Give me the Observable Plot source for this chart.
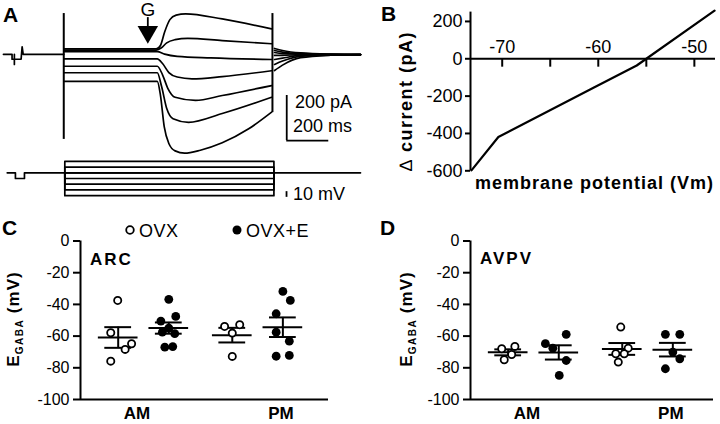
<!DOCTYPE html>
<html><head><meta charset="utf-8">
<script src="https://cdn.jsdelivr.net/npm/d3@7"></script>
<script src="https://cdn.jsdelivr.net/npm/@observablehq/plot@0.6"></script>
<style>
html,body{margin:0;padding:0;background:#fff;}
#fig{position:relative;width:720px;height:424px;overflow:hidden;background:#fff;}
</style></head><body><div id="fig"></div>
<script>
// ---------------- Panel A: current traces (time ms, current pA) ----------------
const stepLevels = [-40, -50, -60, -70, -80, -90, -100]; // mV
const trace1 = [[3,25],[440,25],[460,40],[480,100],[505,155],[535,175],[580,181],[754,158],[989,114]];
const trace2 = [[3,20],[440,20],[465,30],[490,52],[530,66],[590,72],[754,62],[989,48]];
const trace3 = [[3,13],[445,13],[480,2],[540,-8],[700,-15],[989,-22]];
const trace4 = [[3,-19],[445,-19],[470,-40],[500,-80],[540,-100],[610,-108],[754,-98],[989,-72]];
const trace5 = [[3,-52],[445,-52],[470,-90],[495,-150],[530,-190],[627,-204],[754,-182],[989,-138]];
const trace6 = [[3,-81],[445,-81],[465,-140],[490,-240],[520,-285],[594,-301],[754,-262],[989,-190]];
const trace7 = [[3,-119],[445,-119],[460,-180],[478,-320],[500,-395],[530,-428],[575,-438],[650,-425],[754,-392],[880,-330],[989,-256]];
const tail1 = [[1003,27],[1041,18],[1127,7],[1270,1.5],[1412,0]];
const tail2 = [[1003,18],[1041,11],[1127,4],[1270,1],[1412,0]];
const tail3 = [[1003,9],[1041,4],[1127,2],[1270,0.5],[1412,0]];
const tail4 = [[1003,-4],[1041,-4],[1127,0],[1270,0],[1412,0]];
const tail5 = [[1003,-22],[1041,-16],[1127,-4],[1270,-1],[1412,0]];
const tail6 = [[1003,-44],[1041,-29],[1127,-8],[1270,-2],[1412,0]];
const tail7 = [[1003,-71],[1041,-47],[1127,-14],[1270,-3],[1412,0]];
const preStep = [[-287,1],[-246,1],[-246,-21],[-235,-21],[-235,1],[-235,-44],[-235,-21],[-203,-21],[-198,34],[-193,1],[0,1]];
const capSpikeTime = [0, 993];
const capSpikeTop = [182, 182];
const capSpikeBottom = [-377, -258];
const gabaPuff = 400; // ms
const holdingV = [[-269,-60],[-230,-60],[-230,-70],[-187,-70],[-187,-60],[1412,-60]];
const stepOn = 5, stepOff = 1000;
const barI = 200, barT = 200, barV = 10;

// ---------------- Panel B: I-V relation ----------------
const ivVm = [-73.2, -70.4, -60.5, -56, -47.9];
const ivCurrent = [-598, -419, -155, -36, 258];
const ivYTicks = [200, 0, -200, -400, -600];
const ivXTicks = [-70, -65, -60, -55, -50];
const ivXLabels = [-70, -60, -50];

// ---------------- Panels C, D: EGABA ----------------
const groups = ["OVX AM", "OVX+E AM", "OVX PM", "OVX+E PM"];
const groupTreat = ["OVX", "OVX+E", "OVX", "OVX+E"];
const groupPos = [0.76, 1.78, 3.06, 4.08];
const sessions = ["AM", "PM"];
const sessionPos = [1.14, 4.04];
const egabaTicks = [0, -20, -40, -60, -80, -100];
const arcValues = [
  [-37.5, -57.9, -64.8, -68.4, -75.8],
  [-36.8, -47.6, -50.5, -55, -57.5, -58.5, -67, -66.6],
  [-53.9, -52.8, -58.1, -72.8],
  [-31.8, -37.5, -45.9, -57.5, -63.2, -72.7, -72.2]
];
const arcJitter = [
  [-0.01, -0.15, 0.27, 0.14, -0.15],
  [0, 0.14, -0.16, 0, -0.13, 0.12, -0.08, 0.08],
  [-0.155, 0.15, 0, 0],
  [0, 0.15, -0.135, -0.135, 0.13, -0.135, 0.13]
];
const avpvValues = [
  [-68, -66.5, -71.6, -74.9],
  [-58.9, -64.8, -67.6, -75.4, -84.8],
  [-54.3, -67.6, -71.1, -71.1, -76.4],
  [-58.9, -58.9, -70.1, -74.3, -80.6]
];
const avpvJitter = [
  [-0.13, 0.135, 0.07, -0.08],
  [0.15, -0.27, -0.12, 0.15, 0.01],
  [-0.03, 0.12, -0.13, 0.04, -0.08],
  [-0.15, 0.14, 0, 0.14, -0.15]
];

const FONT = '"Liberation Sans", Arial, Helvetica, sans-serif';
const fig = document.getElementById("fig");
function place(svg, left, top) {
  svg.style.position = "absolute";
  svg.style.left = left + "px";
  svg.style.top = top + "px";
  fig.appendChild(svg);
}
const baseStyle = {fontFamily: FONT, background: "none", overflow: "visible"};

// ----- Panel A traces -----
const traces = [trace1, trace2, trace3, trace4, trace5, trace6, trace7];
const tails = [tail1, tail2, tail3, tail4, tail5, tail6, tail7];
const traceRows = traces.flatMap((tr, k) => tr.map(([t, i]) => ({t, i, key: "s" + k})))
  .concat(tails.flatMap((tr, k) => tr.map(([t, i]) => ({t, i, key: "t" + k}))));
const spikes = capSpikeTime.map((t, k) => ({t, top: capSpikeTop[k], bot: capSpikeBottom[k]}));
const barX = 1061, barY = -382;
const plotA = Plot.plot({
  width: 360, height: 215, margin: 0,
  style: baseStyle,
  x: {domain: [-301, 1412], axis: null},
  y: {domain: [-715, 240], axis: null},
  marks: [
    Plot.line(preStep, {x: d => d[0], y: d => d[1], stroke: "black", strokeWidth: 1.7}),
    Plot.line(traceRows, {x: "t", y: "i", z: "key", curve: "monotone-x", stroke: "black", strokeWidth: 1.7}),
    Plot.ruleX(spikes, {x: "t", y1: "bot", y2: "top", stroke: "black", strokeWidth: 2}),
    // GABA puff arrow
    Plot.ruleX([gabaPuff], {x: d => d, y1: 164, y2: 120, stroke: "black", strokeWidth: 1.8}),
    Plot.dot([gabaPuff], {x: d => d, y: 100, symbol: "triangle", rotate: 180, r: 7.6, fill: "black"}),
    Plot.text(["G"], {x: gabaPuff, y: 172, text: d => d, lineAnchor: "bottom", fontSize: 19}),
    // scale bars
    Plot.ruleX([barX], {x: d => d, y1: barY, y2: barY + barI, stroke: "black", strokeWidth: 1.8}),
    Plot.ruleY([barY], {y: d => d, x1: barX, x2: barX + barT, stroke: "black", strokeWidth: 1.8})
  ]
});
place(plotA, 0, 0);

// ----- Panel A voltage protocol -----
const stepRows = stepLevels.flatMap((L, k) => [
  {t: stepOn, v: -60, k}, {t: stepOn, v: L, k}, {t: stepOff, v: L, k}, {t: stepOff, v: -60, k}
]);
const plotV = Plot.plot({
  width: 360, height: 60, margin: 0,
  style: baseStyle,
  x: {domain: [-301, 1412], axis: null},
  y: {domain: [-126, -21], axis: null},
  marks: [
    Plot.line(holdingV, {x: d => d[0], y: d => d[1], stroke: "black", strokeWidth: 1.7}),
    Plot.line(stepRows, {x: "t", y: "v", z: "k", stroke: "black", strokeWidth: 1.7}),
    Plot.ruleX([1060], {x: d => d, y1: -103, y2: -103 + barV, stroke: "black", strokeWidth: 1.8})
  ]
});
place(plotV, 0, 150);

// ----- Panel B -----
const ivRows = ivVm.map((v, k) => ({v, i: ivCurrent[k]}));
const xMin = -73.3;
const plotB = Plot.plot({
  width: 360, height: 215, marginLeft: 110, marginRight: 5, marginTop: 11.6, marginBottom: 44.7,
  style: baseStyle,
  x: {domain: [xMin, -47.8], axis: null},
  y: {domain: [-600, 250], axis: null},
  marks: [
    Plot.ruleX([xMin], {x: d => d, y1: -600, y2: 250, stroke: "black", strokeWidth: 2}),
    Plot.ruleY([0], {y: d => d, stroke: "black", strokeWidth: 2}),
    Plot.axisY({ticks: ivYTicks, tickSize: 5, tickPadding: 3, fontSize: 18, tickFormat: d => String(d), label: null, strokeWidth: 2}),
    Plot.ruleX(ivXTicks, {x: d => d, y1: 0, y2: -45, stroke: "black", strokeWidth: 2}),
    Plot.text(ivXLabels, {x: d => d, y: 0, dy: -6, text: d => String(d), lineAnchor: "bottom", fontSize: 18}),
    Plot.line(ivRows, {x: "v", y: "i", stroke: "black", strokeWidth: 2.2})
  ]
});
place(plotB, 360, 0);

// ----- Panels C, D -----
function egabaPanel(values, jitter, xMax, left, marginLeft, marginRight) {
  const pts = values.flatMap((vals, g) => vals.map((v, k) => ({x: groupPos[g] + jitter[g][k], v, treat: groupTreat[g]})));
  const summ = values.map((vals, g) => {
    const m = d3.mean(vals), s = d3.deviation(vals) / Math.sqrt(vals.length);
    return {pos: groupPos[g], mean: m, lo: m - s, hi: m + s};
  });
  const sess = sessions.map((s, k) => ({s, x: sessionPos[k]}));
  const p = Plot.plot({
    width: 360, height: 204, marginLeft, marginRight, marginTop: 20.5, marginBottom: 25,
    style: baseStyle,
    x: {domain: [0, xMax], axis: null},
    y: {domain: [-100, 0], axis: null},
    marks: [
      Plot.ruleX([0], {x: d => d, y1: -100, y2: 0, stroke: "black", strokeWidth: 2}),
      Plot.ruleY([-100], {y: d => d, x1: 0, x2: xMax, stroke: "black", strokeWidth: 2}),
      Plot.axisY({ticks: egabaTicks, tickSize: 7, tickPadding: 4, fontSize: 16, tickFormat: d => String(d), label: null, strokeWidth: 2}),
      Plot.ruleY(summ, {y: "mean", x1: d => d.pos - 0.4, x2: d => d.pos + 0.4, stroke: "black", strokeWidth: 2}),
      Plot.ruleY(summ, {y: "hi", x1: d => d.pos - 0.27, x2: d => d.pos + 0.27, stroke: "black", strokeWidth: 2}),
      Plot.ruleY(summ, {y: "lo", x1: d => d.pos - 0.27, x2: d => d.pos + 0.27, stroke: "black", strokeWidth: 2}),
      Plot.ruleX(summ, {x: "pos", y1: "lo", y2: "hi", stroke: "black", strokeWidth: 2}),
      Plot.dot(pts.filter(d => d.treat === "OVX"), {x: "x", y: "v", r: 3.6, fill: "white", stroke: "black", strokeWidth: 1.8}),
      Plot.dot(pts.filter(d => d.treat !== "OVX"), {x: "x", y: "v", r: 4.4, fill: "black"}),
      Plot.text(sess, {x: "x", y: -100, dy: 14, text: "s", fontSize: 17, fontWeight: "bold", letterSpacing: 1})
    ]
  });
  place(p, left, 220);
}
egabaPanel(arcValues, arcJitter, 5, 0, 80, 32);
egabaPanel(avpvValues, avpvJitter, 4.9, 360, 110, 7);

// ----- Annotation text overlay -----
const ov = d3.select(fig).append("svg")
  .attr("width", 720).attr("height", 424)
  .style("position", "absolute").style("left", "0px").style("top", "0px")
  .style("font-family", FONT).style("overflow", "visible");
function txt(x, y, s, size, weight, ls) {
  return ov.append("text").attr("x", x).attr("y", y).attr("font-size", size)
    .attr("font-weight", weight || "normal").attr("letter-spacing", ls || 0).text(s);
}
txt(3, 22, "A", 21, "bold");
txt(381, 20.5, "B", 21, "bold");
txt(2, 235, "C", 21, "bold");
txt(380, 235, "D", 21, "bold");
txt(295, 108.3, "200 pA", 18);
txt(293, 131.7, "200 ms", 18);
txt(293, 200, "10 mV", 18);
txt(475, 189.3, "membrane potential (Vm)", 18, "bold", 1);
txt(139, 236.5, "OVX", 18, "normal", 0.5);
txt(246, 236.5, "OVX+E", 18, "normal", 0.5);
ov.append("circle").attr("cx", 130).attr("cy", 230).attr("r", 3.8).attr("fill", "white").attr("stroke", "black").attr("stroke-width", 1.8);
ov.append("circle").attr("cx", 237).attr("cy", 230).attr("r", 4.5).attr("fill", "black");
txt(90, 265, "ARC", 17, "bold", 2);
txt(480, 263.5, "AVPV", 17, "bold", 2);

// rotated axis titles
const dl = ov.append("text").attr("transform", "translate(405.5,101) rotate(-90)")
  .attr("text-anchor", "middle").attr("dy", "0.35em").attr("font-size", 18).attr("font-weight", "bold").attr("letter-spacing", 1.5);
dl.append("tspan").attr("font-weight", "normal").text("\u2206");
dl.append("tspan").text(" current (pA)");
function egabaLabel(cx) {
  const t = ov.append("text").attr("transform", `translate(${cx},319) rotate(-90)`)
    .attr("text-anchor", "middle").attr("dy", "0.35em").attr("font-size", 17).attr("font-weight", "bold").attr("letter-spacing", 1);
  t.append("tspan").text("E");
  t.append("tspan").attr("font-size", 10).attr("dy", 4).attr("letter-spacing", 1.5).text("GABA");
  t.append("tspan").attr("dy", -4).text(" (mV)");
}
egabaLabel(13);
egabaLabel(406);
</script></body></html>
